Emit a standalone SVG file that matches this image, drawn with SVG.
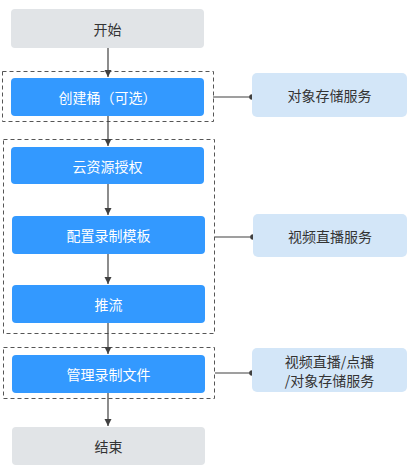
<svg xmlns="http://www.w3.org/2000/svg" width="410" height="473" viewBox="0 0 410 473">
<defs>
<marker id="arr" markerWidth="8" markerHeight="8" refX="7" refY="4" orient="auto" markerUnits="userSpaceOnUse"><path d="M0,0.5 L7,4 L0,7.5 Z" fill="#404040"/></marker>
<marker id="dot" markerWidth="8" markerHeight="8" refX="4" refY="4" markerUnits="userSpaceOnUse"><circle cx="4" cy="4" r="2.8" fill="#404040"/></marker>
</defs>
<style>
.term{fill:#e1e4e7}
.step{fill:#3399ff}
.svc{fill:#d3e6f8}
.grp{fill:none;stroke:#555;stroke-width:1;stroke-dasharray:4,3}
.t{font-family:"Noto Sans CJK SC","Liberation Sans",sans-serif;font-size:14px;text-anchor:middle;dominant-baseline:central}
.dk{fill:#333}
.wt{fill:#fff}
.ln{stroke:#404040;stroke-width:1.2;fill:none}
</style>
<g id="groups">
<rect class="grp" x="2.5" y="71.5" width="211" height="50"/>
<rect class="grp" x="3.5" y="139.5" width="211" height="194"/>
<rect class="grp" x="3.5" y="347.5" width="211" height="51"/>
</g>
<g id="connectors">
<line class="ln" x1="108" y1="48" x2="108" y2="77" marker-end="url(#arr)"/>
<line class="ln" x1="108" y1="116" x2="108" y2="146" marker-end="url(#arr)"/>
<line class="ln" x1="108" y1="184" x2="108" y2="215" marker-end="url(#arr)"/>
<line class="ln" x1="108" y1="254" x2="108" y2="284" marker-end="url(#arr)"/>
<line class="ln" x1="108" y1="323" x2="108" y2="354" marker-end="url(#arr)"/>
<line class="ln" x1="108" y1="393" x2="108" y2="426" marker-end="url(#arr)"/>
<line class="ln" x1="213" y1="97" x2="252" y2="97" marker-end="url(#dot)"/>
<line class="ln" x1="215" y1="237" x2="253" y2="237" marker-end="url(#dot)"/>
<line class="ln" x1="215" y1="373" x2="252" y2="373" marker-end="url(#dot)"/>
</g>
<g id="start"><rect class="term" x="11" y="9" width="193" height="39" rx="4"/><text class="t dk" x="107.5" y="28.5">开始</text></g>
<g id="create"><rect class="step" x="11" y="78" width="193" height="38" rx="4"/><text class="t wt" x="107.5" y="97">创建桶（可选）</text></g>
<g id="auth"><rect class="step" x="11" y="147" width="193" height="37" rx="4"/><text class="t wt" x="107.5" y="165.5">云资源授权</text></g>
<g id="template"><rect class="step" x="12" y="216" width="193" height="38" rx="4"/><text class="t wt" x="108.5" y="235">配置录制模板</text></g>
<g id="push"><rect class="step" x="12" y="285" width="193" height="38" rx="4"/><text class="t wt" x="108.5" y="304">推流</text></g>
<g id="manage"><rect class="step" x="12" y="355" width="193" height="38" rx="4"/><text class="t wt" x="108.5" y="374">管理录制文件</text></g>
<g id="end"><rect class="term" x="12" y="427" width="193" height="38" rx="4"/><text class="t dk" x="108.5" y="446">结束</text></g>
<g id="svc1"><rect class="svc" x="252" y="73" width="155" height="44" rx="5"/><text class="t dk" x="329.5" y="95">对象存储服务</text></g>
<g id="svc2"><rect class="svc" x="253" y="214" width="154" height="43" rx="5"/><text class="t dk" x="330" y="236">视频直播服务</text></g>
<g id="svc3"><rect class="svc" x="252" y="348" width="155" height="44" rx="5"/><text class="t dk" x="329.5" y="361">视频直播/点播</text><text class="t dk" x="329.5" y="380">/对象存储服务</text></g>
</svg>
